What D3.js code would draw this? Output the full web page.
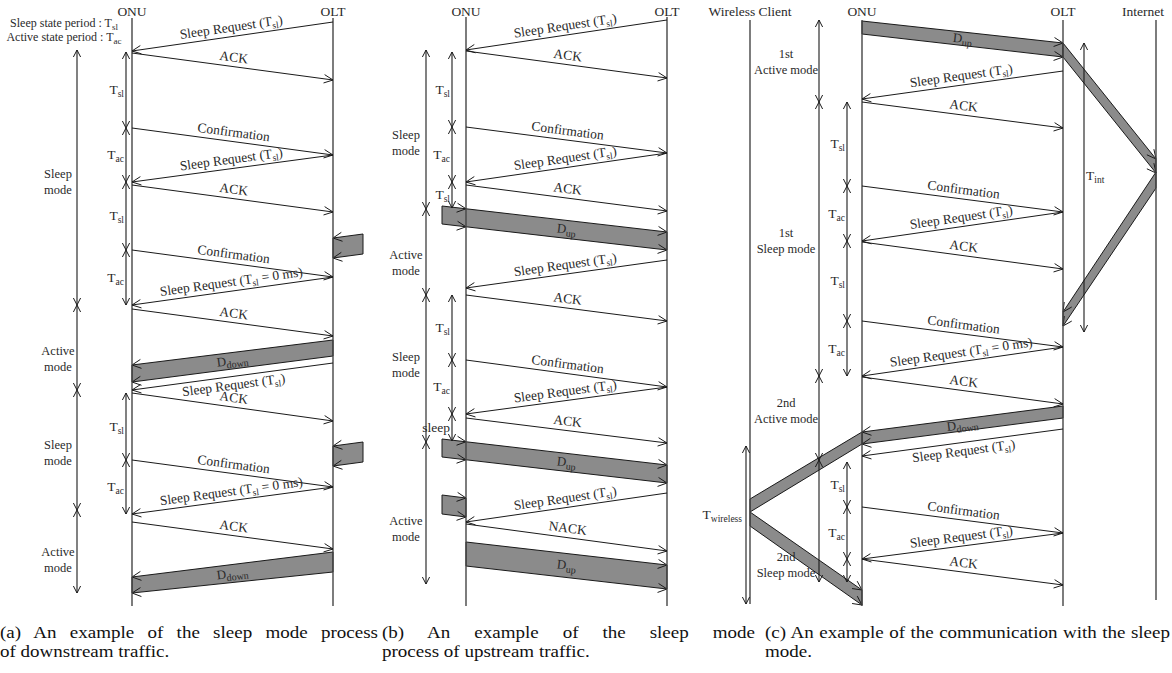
<!DOCTYPE html>
<html>
<head>
<meta charset="utf-8">
<script src="https://cdn.jsdelivr.net/npm/d3@7"></script>
<style>
  body { margin: 0; background: #fff; }
  svg { display: block; font-family: "Liberation Serif", "Times New Roman", serif; }
</style>
</head>
<body>
<svg id="fig" width="1172" height="673"></svg>
<script>
// ---------------- data ----------------
// message: [from, to, send time, arrival time, label]
const messagesA = [
  ["OLT", "ONU", 22, 51, "Sleep Request (T_{sl})"],
  ["ONU", "OLT", 53, 80, "ACK"],
  ["ONU", "OLT", 128, 155, "Confirmation"],
  ["OLT", "ONU", 155, 182, "Sleep Request (T_{sl})"],
  ["ONU", "OLT", 185, 212, "ACK"],
  ["ONU", "OLT", 250, 277, "Confirmation"],
  ["OLT", "ONU", 277, 305, "Sleep Request (T_{sl} = 0 ms)"],
  ["ONU", "OLT", 309, 336, "ACK"],
  ["OLT", "ONU", 363, 390, "Sleep Request (T_{sl})"],
  ["ONU", "OLT", 393, 421, "ACK"],
  ["ONU", "OLT", 460, 487, "Confirmation"],
  ["OLT", "ONU", 487, 514, "Sleep Request (T_{sl} = 0 ms)"],
  ["ONU", "OLT", 522, 549, "ACK"]
];
const messagesB = [
  ["OLT", "ONU", 20, 50, "Sleep Request (T_{sl})"],
  ["ONU", "OLT", 51, 78, "ACK"],
  ["ONU", "OLT", 127, 153, "Confirmation"],
  ["OLT", "ONU", 153, 182, "Sleep Request (T_{sl})"],
  ["ONU", "OLT", 185, 211, "ACK"],
  ["OLT", "ONU", 260, 288, "Sleep Request (T_{sl})"],
  ["ONU", "OLT", 295, 321, "ACK"],
  ["ONU", "OLT", 360, 387, "Confirmation"],
  ["OLT", "ONU", 387, 414, "Sleep Request (T_{sl})"],
  ["ONU", "OLT", 418, 443, "ACK"],
  ["OLT", "ONU", 493, 522, "Sleep Request (T_{sl})"],
  ["ONU", "OLT", 524, 551, "NACK"]
];
const messagesC = [
  ["OLT", "ONU", 71, 99, "Sleep Request (T_{sl})"],
  ["ONU", "OLT", 102, 128, "ACK"],
  ["ONU", "OLT", 186, 212, "Confirmation"],
  ["OLT", "ONU", 212, 241, "Sleep Request (T_{sl})"],
  ["ONU", "OLT", 242, 269, "ACK"],
  ["ONU", "OLT", 321, 347, "Confirmation"],
  ["OLT", "ONU", 347, 376, "Sleep Request (T_{sl} = 0 ms)"],
  ["ONU", "OLT", 377, 404, "ACK"],
  ["OLT", "ONU", 429, 456, "Sleep Request (T_{sl})"],
  ["ONU", "OLT", 507, 533, "Confirmation"],
  ["OLT", "ONU", 533, 559, "Sleep Request (T_{sl})"],
  ["ONU", "OLT", 559, 585, "ACK"]
];

// data burst: [from, to, leading edge at source, trailing edge at source,
//              leading edge at destination, trailing edge at destination, label, arrival lanes]
const burstsA = [
  ["NET", "OLT", 234, 254, 238, 258, "", ["OLT"]],
  ["OLT", "ONU", 340, 356, 365, 382, "D_{down}", ["ONU"]],
  ["NET", "OLT", 442, 462, 446, 466, "", ["OLT"]],
  ["OLT", "ONU", 552, 572, 577, 593, "D_{down}", ["ONU"]]
];
const burstsB = [
  ["APP", "OLT", 206, 224, 232, 250, "D_{up}", ["ONU", "OLT"]],
  ["APP", "OLT", 439, 457, 465, 483, "D_{up}", ["ONU", "OLT"]],
  ["APP", "ONU", 495, 514, 498, 517, "", ["ONU"]],
  ["ONU", "OLT", 542, 566, 565, 589, "D_{up}", ["OLT"]]
];
const burstsC = [
  ["ONU", "OLT", 21, 34, 43, 57, "D_{up}", ["OLT"]],
  ["OLT", "NET", 43, 57, 159, 173, "", ["NET"]],
  ["NET", "OLT", 172, 188, 312, 326, "", ["OLT"]],
  ["OLT", "ONU", 406, 418, 432, 444, "D_{down}", ["ONU"]],
  ["ONU", "WC", 432, 444, 499, 512, "", []],
  ["WC", "ONU", 512, 526, 590, 605, "", ["ONU"]]
];

// ONU timers: [start, end, label]
const timersA = [[52, 128, "T_{sl}"], [128, 182, "T_{ac}"], [182, 250, "T_{sl}"], [250, 305, "T_{ac}"],
                 [393, 460, "T_{sl}"], [460, 514, "T_{ac}"]];
const timersB = [[52, 127, "T_{sl}"], [127, 182, "T_{ac}"], [182, 208, "T_{sl}"],
                 [295, 360, "T_{sl}"], [360, 414, "T_{ac}"], [414, 441, "sleep"]];
const timersC = [[102, 186, "T_{sl}"], [186, 241, "T_{ac}"], [241, 321, "T_{sl}"], [321, 376, "T_{ac}"],
                 [462, 507, "T_{sl}"], [507, 559, "T_{ac}"], [559, 582, ""]];

// ONU modes: [start, end, first line, second line]
const modesA = [[50, 305, "Sleep", "mode"], [305, 390, "Active", "mode"],
                [390, 510, "Sleep", "mode"], [510, 593, "Active", "mode"]];
const modesB = [[50, 209, "Sleep", "mode"], [209, 295, "Active", "mode"],
                [295, 442, "Sleep", "mode"], [442, 584, "Active", "mode"]];
const modesC = [[20, 102, "1st", "Active mode"], [102, 376, "1st", "Sleep mode"],
                [376, 460, "2nd", "Active mode"], [460, 582, "2nd", "Sleep mode"]];

// other intervals in (c): [label, start, end]
const intervalsC = [["T_{int}", 43, 332], ["T_{wireless}", 446, 604]];

// node headers
const nodesA = ["ONU", "OLT"];
const nodesB = ["ONU", "OLT"];
const nodesC = ["WC", "ONU", "OLT", "NET"];
const nodeNames = { ONU: "ONU", OLT: "OLT", WC: "Wireless Client", NET: "Internet" };

const legendLines = ["Sleep state period : T_{sl}", "Active state period : T_{ac}"];

const captionA = ["(a) An example of the sleep mode process", "of downstream traffic."];
const captionB = ["(b) An example of the sleep mode", "process of upstream traffic."];
const captionC = ["(c) An example of the communication with the sleep", "mode."];

// ---------------- layout ----------------
const W = 1172, H = 673;
const svg = d3.select("#fig");
const y = d3.scaleLinear().domain([0, H]).range([0, H]);

const INK = "#1a1a1a", TEXT = "#2a2a2a", LIFE = "#454545", FILL = "#8b8b8b";

const panels = [
  {
    nodes: nodesA, messages: messagesA, bursts: burstsA, timers: timersA, modes: modesA,
    x: d3.scaleOrdinal().domain(["ONU", "OLT", "NET"]).range([132, 333, 363]),
    life: { ONU: [18, 606], OLT: [18, 606] },
    timerX: 126, modeX: 77, modeLabelX: 58, modeDy: [0, 7, -1, 4],
    below: [8]
  },
  {
    nodes: nodesB, messages: messagesB, bursts: burstsB, timers: timersB, modes: modesB,
    x: d3.scaleOrdinal().domain(["APP", "ONU", "OLT"]).range([442, 466, 667]),
    life: { ONU: [17, 606], OLT: [17, 606] },
    timerX: 452, modeX: 426, modeLabelX: 406, modeDy: [9, 7, -8, 12],
    below: []
  },
  {
    nodes: nodesC, messages: messagesC, bursts: burstsC, timers: timersC, modes: modesC,
    x: d3.scaleOrdinal().domain(["WC", "ONU", "OLT", "NET"]).range([750, 862, 1063, 1156]),
    life: { WC: [20, 604], ONU: [20, 606], OLT: [20, 606], NET: [20, 600] },
    timerX: 847, modeX: 819, modeLabelX: 786, modeDy: [-3, -2, -11, 40],
    below: [8]
  }
];

// ---------------- helpers ----------------
function rich(textSel, str, subSize) {
  let shifted = false;
  str.split(/(_\{[^}]*\})/).filter(Boolean).forEach(p => {
    const m = p.match(/^_\{(.*)\}$/);
    if (m) {
      textSel.append("tspan").attr("font-size", subSize).attr("dy", shifted ? 0 : 3).text(m[1]);
      shifted = true;
    } else {
      textSel.append("tspan").attr("dy", shifted ? -3 : 0).text(p);
      shifted = false;
    }
  });
  return textSel;
}

function chevron(g, x, yy, ang, len, half, w) {
  const c = Math.cos(ang), s = Math.sin(ang);
  const bx = x - len * c, by = yy - len * s;
  const px = -s * half, py = c * half;
  g.append("path")
    .attr("d", `M${bx + px},${by + py}L${x},${yy}L${bx - px},${by - py}`)
    .attr("fill", "none").attr("stroke", INK).attr("stroke-width", w || 1);
}

function doubleArrow(g, x, y0, y1, w) {
  g.append("line").attr("x1", x).attr("x2", x).attr("y1", y(y0)).attr("y2", y(y1))
    .attr("stroke", INK).attr("stroke-width", w || 1.1);
  chevron(g, x, y(y0), -Math.PI / 2, 7, 3.6, 1);
  chevron(g, x, y(y1), Math.PI / 2, 7, 3.6, 1);
}

// ---------------- drawing ----------------
panels.forEach(P => {
  const g = svg.append("g");
  const X = P.x;

  // data bursts
  P.bursts.forEach(b => {
    const [from, to, tf, bf, tt, bt, label, arrivals] = b;
    const x0 = X(from), x1 = X(to);
    const pts = [[x0, y(tf)], [x1, y(tt)], [x1, y(bt)], [x0, y(bf)]];
    g.append("path").attr("d", d3.line()(pts) + "Z")
      .attr("fill", FILL).attr("stroke", INK).attr("stroke-width", 1);
    const edgeAt = (x, a, bb) => a + (bb - a) * (x - x0) / (x1 - x0);
    const angT = Math.atan2(y(tt) - y(tf), x1 - x0);
    const angB = Math.atan2(y(bt) - y(bf), x1 - x0);
    arrivals.forEach(lane => {
      const xl = X(lane);
      chevron(g, xl, y(edgeAt(xl, tf, tt)), angT, 9, 4.5, 1);
      chevron(g, xl, y(edgeAt(xl, bf, bt)), angB, 9, 4.5, 1);
    });
    if (label) {
      const chain = [from, ...arrivals];
      const xa = X(chain[chain.length - 2]), xb = X(chain[chain.length - 1]);
      const xm = (xa + xb) / 2;
      const ym = (y(edgeAt(xm, tf, tt)) + y(edgeAt(xm, bf, bt))) / 2;
      const ang = Math.atan2(Math.abs(y(tt) - y(tf)) * Math.sign((y(tt) - y(tf)) * (x1 - x0)), Math.abs(x1 - x0)) * 180 / Math.PI;
      const t = g.append("text")
        .attr("transform", `translate(${xm},${ym}) rotate(${ang})`)
        .attr("y", 4).attr("text-anchor", "middle")
        .attr("font-size", 13).attr("fill", TEXT);
      rich(t, label, 10);
    }
  });

  // lifelines and node names
  Object.entries(P.life).forEach(([k, [a, b]]) => {
    g.append("line").attr("x1", X(k)).attr("x2", X(k)).attr("y1", y(a)).attr("y2", y(b))
      .attr("stroke", LIFE).attr("stroke-width", 1.4);
  });
  P.nodes.forEach(k => {
    const isNet = k === "NET";
    g.append("text")
      .attr("x", isNet ? W - 8 : X(k)).attr("y", 16)
      .attr("text-anchor", isNet ? "end" : "middle")
      .attr("font-size", 13.5).attr("fill", TEXT)
      .text(nodeNames[k]);
  });

  // control messages
  P.messages.forEach((m, i) => {
    const [from, to, t0, t1, label] = m;
    const xa = X(from), xb = X(to), ya = y(t0), yb = y(t1);
    g.append("line").attr("x1", xa).attr("y1", ya).attr("x2", xb).attr("y2", yb)
      .attr("stroke", INK).attr("stroke-width", 1);
    chevron(g, xb, yb, Math.atan2(yb - ya, xb - xa), 9, 4.2, 1);
    // text reads left to right along the message
    const L = xa < xb ? [xa, ya] : [xb, yb];
    const R = xa < xb ? [xb, yb] : [xa, ya];
    const ang = Math.atan2(R[1] - L[1], R[0] - L[0]) * 180 / Math.PI;
    const below = P.below.includes(i);
    const t = g.append("text")
      .attr("transform", `translate(${(xa + xb) / 2},${(ya + yb) / 2}) rotate(${ang})`)
      .attr("y", below ? 13 : -5).attr("text-anchor", "middle")
      .attr("font-size", 13.5).attr("fill", TEXT);
    rich(t, label, 9.5);
  });

  // ONU timers
  P.timers.forEach(([a, b, label]) => {
    doubleArrow(g, P.timerX, a, b);
    if (label) {
      const t = g.append("text").attr("x", P.timerX - 2).attr("y", y((a + b) / 2) + 4)
        .attr("text-anchor", "end").attr("font-size", 13.5).attr("fill", TEXT);
      rich(t, label, 9.5);
    }
  });

  // ONU modes
  P.modes.forEach(([a, b, l1, l2], i) => {
    doubleArrow(g, P.modeX, a, b);
    const c = y((a + b) / 2) + P.modeDy[i];
    [l1, l2].forEach((s, j) => {
      g.append("text").attr("x", P.modeLabelX).attr("y", c + j * 16)
        .attr("text-anchor", "middle").attr("font-size", 12.5).attr("fill", TEXT).text(s);
    });
  });
});

// intervals in (c)
{
  const g = svg.append("g");
  const [tInt, tWl] = intervalsC;
  doubleArrow(g, 1084, tInt[1], tInt[2]);
  rich(g.append("text").attr("x", 1086).attr("y", y((tInt[1] + tInt[2]) / 2) - 8)
    .attr("font-size", 13.5).attr("fill", TEXT), tInt[0], 9.5);
  doubleArrow(g, 746, tWl[1], tWl[2]);
  rich(g.append("text").attr("x", 742).attr("y", y((tWl[1] + tWl[2]) / 2) - 6)
    .attr("text-anchor", "end").attr("font-size", 13.5).attr("fill", TEXT), tWl[0], 9.5);
}

// legend of the timer symbols
legendLines.forEach((s, i) => {
  const t = svg.append("text").attr("x", 64).attr("y", 27 + i * 14)
    .attr("text-anchor", "middle").attr("font-size", 12).attr("fill", TEXT);
  rich(t, s, 9);
});

// sub-figure captions: first line justified, second line flush left
const CAP_SX = 1.12;
const captions = [[captionA, 0, 378], [captionB, 382, 373], [captionC, 765, 405]];
captions.forEach(([lines, x0, width]) => {
  const g = svg.append("g").attr("transform", `translate(${x0},0) scale(${CAP_SX},1)`);
  lines.forEach((s, j) => {
    const t = g.append("text").attr("x", 0).attr("y", 638 + j * 19)
      .attr("font-size", 17).attr("fill", "#111").text(s);
    if (j === 0) {
      const natural = t.node().getComputedTextLength();
      const gaps = s.split(" ").length - 1;
      t.attr("word-spacing", (width / CAP_SX - natural) / gaps);
    }
  });
});
</script>
</body>
</html>
